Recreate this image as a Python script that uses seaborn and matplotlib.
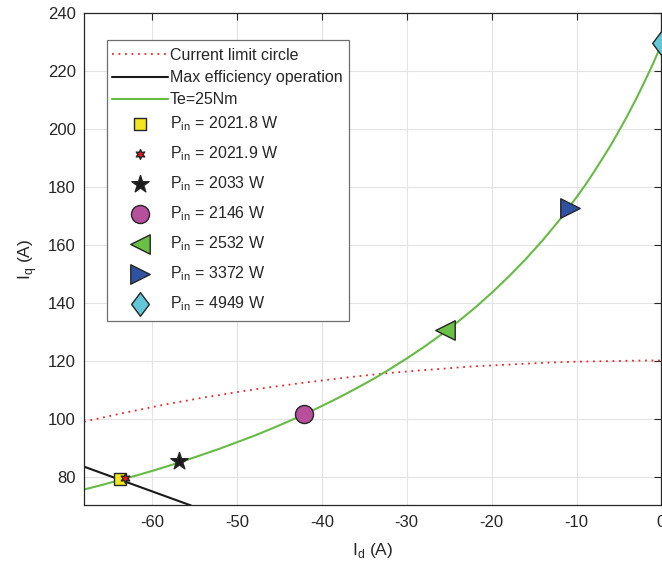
import numpy as np
import matplotlib
matplotlib.use("Agg")
import matplotlib.pyplot as plt
import seaborn as sns
from matplotlib.path import Path
from matplotlib.patches import Rectangle

# Current limit circle
circle_id = [-68, -66, -64, -62, -60, -58, -56, -54, -52, -50, -48, -46, -44, -42, -40, -38, -36,
             -34, -32, -30, -28, -26, -24, -22, -20, -18, -16, -14, -12, -10, -8, -6, -4, -2, 0]
circle_iq = [98.9, 100.2, 101.5, 102.7, 103.9, 105.1, 106.1, 107.2, 108.1, 109.1, 110.0, 110.8,
             111.6, 112.4, 113.1, 113.8, 114.5, 115.1, 115.7, 116.2, 116.7, 117.1, 117.6, 118.0,
             118.3, 118.6, 118.9, 119.2, 119.4, 119.6, 119.7, 119.8, 119.9, 120.0, 120.0]

# Max efficiency operation line
maxeff_id = [-68, -55.4]
maxeff_iq = [83.4, 70.0]

# Constant torque curve Te = 25 Nm
torque_id = [-68, -66, -64, -62, -60, -58, -56, -54, -52, -50, -48, -46, -44, -42, -40, -38, -36,
             -34, -32, -30, -28, -26, -24, -22, -20, -18, -16, -14, -12, -10, -9, -8, -7, -6,
             -5, -4, -3, -2, -1, 0]
torque_iq = [75.5, 77.0, 78.6, 80.2, 81.9, 83.7, 85.6, 87.6, 89.6, 91.8, 94.0, 96.4, 98.9, 101.5,
             104.3, 107.2, 110.3, 113.5, 117.0, 120.7, 124.6, 128.8, 133.3, 138.1, 143.3, 148.9,
             154.9, 161.4, 168.5, 176.3, 180.4, 184.8, 189.4, 194.1, 199.2, 204.5, 210.1, 216.1,
             222.3, 229.0]

# Operating points
point_id = [-63.8, -63.2, -56.8, -42.1, -25.5, -10.8, 0.0]
point_iq = [79.0, 79.6, 85.3, 101.6, 130.6, 172.5, 229.4]
point_pin = ["2021.8", "2021.9", "2033", "2146", "2532", "3372", "4949"]

point_colors = ["#f2e61c", "#e8141c", "#1a1a1a", "#b84f9c", "#6abf45", "#3052a2", "#62c8d8"]
tall_diamond = Path([(0, 1), (0.75, 0), (0, -1), (-0.75, 0), (0, 1)], closed=True)
point_markers = ["s", (6, 1, 0), "*", "o", "<", ">", tall_diamond]
point_sizes = [9, 7, 13, 13, 14, 14, 17]

sns.set_style("whitegrid")
plt.rcParams["font.family"] = ["Liberation Sans", "DejaVu Sans"]
plt.rcParams["mathtext.fontset"] = "custom"
plt.rcParams["mathtext.rm"] = "Liberation Sans"
plt.rcParams["axes.unicode_minus"] = False

fig = plt.figure(figsize=(6.62, 5.69), dpi=100)
ax = fig.add_axes([0.1269, 0.1116, 0.8723, 0.8664])

text_col = "#262626"

sns.lineplot(x=circle_id, y=circle_iq, ax=ax, color="#e8262a", lw=1.3,
             linestyle=(0, (1, 2.6)), sort=False)
sns.lineplot(x=maxeff_id, y=maxeff_iq, ax=ax, color="#1a1a1a", lw=1.5, sort=False)
sns.lineplot(x=torque_id, y=torque_iq, ax=ax, color="#66bb44", lw=1.5, sort=False)
line_handles = list(ax.get_lines())
line_labels = ["Current limit circle", "Max efficiency operation", "Te=25Nm"]

point_handles = []
for xi, yi, c, m, ms in zip(point_id, point_iq, point_colors, point_markers, point_sizes):
    sns.scatterplot(x=[xi], y=[yi], ax=ax, color=c, marker=m, s=ms ** 2,
                    edgecolor="#262626", linewidth=1.0, zorder=5, clip_on=False)
    point_handles.append(ax.collections[-1])
point_labels = [r"P$_\mathregular{in}$ = " + p + " W" for p in point_pin]

ax.set_xlim(-68, 0)
ax.set_ylim(70, 240)
ax.set_xticks(np.arange(-60, 1, 10))
ax.set_yticks(np.arange(80, 241, 20))

ax.grid(True, color="#e3e3e3", lw=0.8)
ax.tick_params(direction="in", length=5, width=0.8, colors=text_col,
               labelsize=12, top=True, right=True)
ax.tick_params(axis="x", pad=7)
ax.tick_params(axis="y", pad=6)
for s in ax.spines.values():
    s.set_color(text_col)
    s.set_linewidth(0.9)
    s.set_visible(True)

ax.set_xlabel(r"I$_\mathregular{d}$ (A)", fontsize=12.5, color=text_col, labelpad=8)
ax.set_ylabel(r"I$_\mathregular{q}$ (A)", fontsize=12.5, color=text_col, labelpad=6)

# legend: one white frame, two stacked entry groups (MATLAB spaces the subscript rows wider)
frame = Rectangle((0.0398, 0.3742), 0.4190, 0.570, transform=ax.transAxes,
                  facecolor="white", edgecolor="#6f6f6f", lw=0.9, zorder=6)
ax.add_patch(frame)

leg_kw = dict(loc="upper left", borderaxespad=0, borderpad=0, fontsize=11.5,
              handlelength=3.5, handletextpad=0.12, frameon=False)
leg1 = ax.legend(line_handles, line_labels, bbox_to_anchor=(0.0485, 0.928),
                 labelspacing=0.45, **leg_kw)
leg1.set_zorder(7)
for t in leg1.get_texts():
    t.set_color(text_col)
ax.add_artist(leg1)

leg2 = ax.legend(point_handles, point_labels, bbox_to_anchor=(0.0485, 0.793),
                 labelspacing=0.7, **leg_kw)
leg2.set_zorder(7)
for t in leg2.get_texts():
    t.set_color(text_col)

fig.savefig("out.png", dpi=100)
